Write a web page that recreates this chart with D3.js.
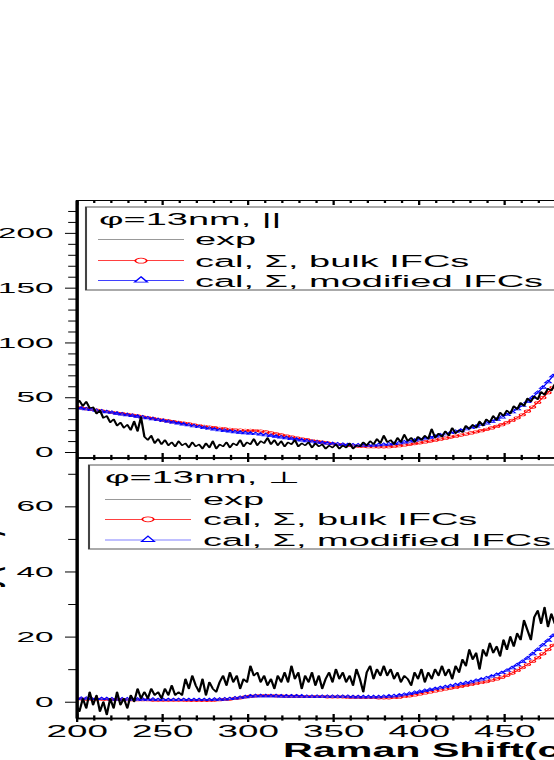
<!DOCTYPE html>
<html>
<head>
<meta charset="utf-8">
<script src="https://cdn.jsdelivr.net/npm/d3@7"></script>
<style>
  body { margin: 0; background: #fff; }
  svg { display: block; }
  text { font-family: "Liberation Sans", Arial, sans-serif; }
</style>
</head>
<body>
<svg id="chart"></svg>
<script>
// Raman spectra, phi = 13nm nanowire, parallel (top) and perpendicular (bottom)

// x grids (cm^-1)
var calcShift = d3.range(200, 483, 3);
var expShift = d3.range(200, 485, 2);

// top panel (||)
var expPar = [
  44, 47, 42, 46, 40, 41, 35, 38, 31, 33,
  27, 30, 24, 27, 22, 25, 20, 28, 19, 32,
  14, 11, 15, 8, 12, 7, 11, 6, 9, 5,
  10, 6, 8, 4, 9, 5, 7, 3, 8, 4,
  10, 3, 7, 5, 9, 4, 8, 6, 11, 5,
  9, 7, 12, 6, 10, 8, 13, 7, 11, 6,
  10, 5, 9, 7, 11, 5, 8, 6, 9, 4,
  8, 5, 7, 3, 6, 4, 7, 3, 6, 4,
  8, 3, 6, 5, 9, 6, 10, 7, 12, 8,
  15, 9, 11, 7, 13, 9, 16, 10, 13, 9,
  14, 11, 15, 12, 21, 13, 17, 14, 19, 15,
  22, 17, 20, 18, 24, 21, 25, 22, 28, 24,
  30, 27, 33, 29, 36, 33, 38, 35, 42, 39,
  45, 42, 49, 46, 51, 48, 55, 52, 58, 56,
  62, 59, 64
];
var bulkPar = [
  41.0, 40.3, 39.6, 39.0, 38.3, 37.6, 37.0, 36.3, 35.6, 35.0,
  34.3, 33.6, 32.9, 32.2, 31.5, 30.7, 29.9, 29.2, 28.4, 27.7,
  27.0, 26.3, 25.6, 24.9, 24.2, 23.5, 22.8, 22.2, 21.6, 21.1,
  20.7, 20.3, 20.0, 19.8, 19.8, 19.6, 19.1, 18.3, 17.4, 16.5,
  15.6, 14.8, 13.9, 13.0, 12.1, 11.3, 10.5, 9.7, 9.0, 8.3,
  7.7, 7.1, 6.6, 6.1, 5.7, 5.4, 5.1, 4.9, 4.8, 4.7,
  4.7, 4.9, 5.3, 5.8, 6.4, 7.0, 7.7, 8.4, 9.2, 10.0,
  10.8, 11.7, 12.6, 13.6, 14.5, 15.5, 16.4, 17.4, 18.4, 19.5,
  20.7, 22.0, 23.4, 25.0, 26.8, 28.8, 31.2, 34.0, 37.3, 41.0,
  45.2, 49.6, 54.2, 59.0, 64.0
];
var modPar = [
  40.5, 39.9, 39.2, 38.6, 37.9, 37.3, 36.6, 36.0, 35.3, 34.6,
  33.9, 33.2, 32.5, 31.8, 31.0, 30.2, 29.4, 28.6, 27.8, 27.0,
  26.2, 25.4, 24.6, 23.8, 23.0, 22.3, 21.5, 20.8, 20.1, 19.5,
  18.9, 18.4, 17.9, 17.5, 17.1, 16.7, 16.2, 15.6, 15.0, 14.3,
  13.6, 12.9, 12.2, 11.5, 10.8, 10.2, 9.6, 9.0, 8.5, 8.0,
  7.6, 7.2, 6.9, 6.6, 6.4, 6.3, 6.2, 6.2, 6.3, 6.5,
  6.8, 7.2, 7.7, 8.3, 9.0, 9.8, 10.7, 11.6, 12.5, 13.4,
  14.4, 15.4, 16.5, 17.6, 18.7, 19.8, 21.0, 22.2, 23.5, 24.9,
  26.4, 28.0, 29.8, 31.8, 34.0, 36.5, 39.3, 42.5, 46.0, 49.9,
  54.3, 59.0, 64.0, 69.5, 75.0
];

// bottom panel (perp)
var expPerp = [
  -1, -3, 1, -2, 3, -1, 2, -3, 0, -4,
  1, -2, 3, -1, 1, -2, 2, 0, 4, 1,
  3, 1, 4, 2, 3, 1, 4, 2, 5, 2,
  3, 2, 7, 4, 8, 5, 3, 7, 2, 6,
  4, 3, 6, 8, 5, 9, 6, 8, 4, 7,
  6, 11, 8, 9, 6, 8, 5, 7, 4, 8,
  6, 9, 6, 11, 7, 9, 4, 8, 6, 9,
  5, 8, 4, 7, 9, 6, 10, 7, 9, 6,
  8, 5, 10, 7, 3, 9, 11, 7, 10, 8,
  11, 8, 10, 7, 9, 6, 8, 7, 5, 9,
  7, 10, 6, 9, 7, 10, 8, 11, 8, 10,
  7, 11, 9, 13, 11, 16, 13, 15, 10, 16,
  14, 18, 15, 17, 14, 19, 16, 20, 17, 21,
  19, 25, 22, 19, 26, 28, 24, 29, 23, 27,
  24, 26, 23
];
var bulkPerp = [
  0.9, 0.9, 0.8, 0.8, 0.8, 0.8, 0.7, 0.7, 0.7, 0.7,
  0.6, 0.6, 0.6, 0.6, 0.6, 0.5, 0.5, 0.5, 0.5, 0.5,
  0.5, 0.5, 0.4, 0.4, 0.4, 0.4, 0.4, 0.5, 0.6, 0.7,
  0.8, 1.0, 1.2, 1.5, 1.7, 1.8, 1.9, 1.9, 1.9, 1.8,
  1.8, 1.7, 1.7, 1.7, 1.6, 1.6, 1.6, 1.6, 1.6, 1.5,
  1.5, 1.5, 1.5, 1.4, 1.4, 1.4, 1.3, 1.3, 1.3, 1.2,
  1.2, 1.2, 1.3, 1.4, 1.6, 1.8, 2.1, 2.4, 2.7, 3.0,
  3.3, 3.6, 3.9, 4.2, 4.4, 4.7, 5.0, 5.3, 5.6, 5.9,
  6.2, 6.6, 7.0, 7.5, 8.1, 8.8, 9.6, 10.5, 11.4, 12.4,
  13.5, 14.7, 16.0, 17.3, 18.6
];
var modPerp = [
  1.0, 1.0, 1.0, 0.9, 0.9, 0.9, 0.9, 0.8, 0.8, 0.8,
  0.8, 0.7, 0.7, 0.7, 0.7, 0.7, 0.6, 0.6, 0.6, 0.6,
  0.6, 0.6, 0.6, 0.6, 0.6, 0.6, 0.6, 0.7, 0.7, 0.8,
  0.9, 1.1, 1.3, 1.5, 1.7, 1.8, 1.8, 1.8, 1.8, 1.8,
  1.7, 1.7, 1.7, 1.7, 1.7, 1.6, 1.6, 1.6, 1.6, 1.6,
  1.6, 1.6, 1.6, 1.6, 1.5, 1.5, 1.5, 1.5, 1.5, 1.5,
  1.6, 1.7, 1.8, 2.0, 2.2, 2.5, 2.8, 3.1, 3.4, 3.7,
  4.0, 4.3, 4.6, 4.9, 5.2, 5.5, 5.8, 6.1, 6.5, 6.9,
  7.3, 7.8, 8.3, 8.9, 9.6, 10.4, 11.3, 12.3, 13.4, 14.7,
  16.0, 17.4, 18.8, 20.3, 21.8
];

var xMajor = [200, 250, 300, 350, 400, 450, 500, 550];
var legendLabels = ['exp', 'cal, \u03A3, bulk IFCs', 'cal, \u03A3, modified IFCs'];

var width = 554;
var height = 760;
var sx = 2.3; // whole figure is stretched sideways

var svg = d3.select('#chart')
    .attr('width', width)
    .attr('height', height);

var canvas = svg.append('g')
    .attr('transform', 'scale(' + sx + ',1)');

var x = d3.scaleLinear()
    .domain([200, 600])
    .range([76 / sx, (76 + 400 * 1.71) / sx]);

var xMinor = d3.range(200, 600, 10).filter(function (v) { return v % 50 !== 0; });

var panels = [
  {
    id: 'par', yDomain: [-5, 230], yRange: [457.5, 200],
    major: [0, 50, 100, 150, 200], minorStep: 10, majorStep: 50,
    exp: expPar, bulk: bulkPar, mod: modPar,
    title: '\u03C6=13nm, ||',
    box: {x: 86, y: 207, h: 83}, titleX: 99, titleY: 225,
    rows: [239.3, 260.7, 280.7], lineX: [98, 184], markX: 141, textX: 195
  },
  {
    id: 'perp', yDomain: [-5, 75], yRange: [718, 457.5],
    major: [0, 20, 40, 60], minorStep: 10, majorStep: 20,
    exp: expPerp, bulk: bulkPerp, mod: modPerp,
    title: '\u03C6=13nm, \u22A5',
    box: {x: 89, y: 465, h: 84}, titleX: 105, titleY: 483,
    rows: [499.3, 519.3, 540], lineX: [105, 191], markX: 148, textX: 203
  }
];

var triPath = 'M0,-1.7L1.5,1L-1.5,1Z';
var triPathBig = 'M0,-3.4L2.8,2L-2.8,2Z';

function styleAxis(g, sw) {
  g.selectAll('path.domain').attr('stroke', '#000').attr('stroke-width', sw);
  g.selectAll('line').attr('stroke', '#000').attr('stroke-width', 1);
  g.selectAll('text')
    .attr('fill', '#000')
    .style('font-family', '"Liberation Sans", Arial, sans-serif');
}

panels.forEach(function (p) {
  var y = d3.scaleLinear().domain(p.yDomain).range(p.yRange);
  var x0 = x.range()[0], x1 = x.range()[1];
  var yTop = p.yRange[1], yBot = p.yRange[0];
  var g = canvas.append('g');

  g.append('clipPath').attr('id', 'clip-' + p.id)
    .append('rect')
    .attr('x', x0).attr('y', yTop)
    .attr('width', x1 - x0).attr('height', yBot - yTop);

  // data ----------------------------------------------------------
  var plot = g.append('g').attr('clip-path', 'url(#clip-' + p.id + ')');
  var line = d3.line()
      .x(function (d) { return x(d[0]); })
      .y(function (d) { return y(d[1]); });

  var bulkPts = calcShift.map(function (s, i) { return [s, p.bulk[i]]; });
  var modPts = calcShift.map(function (s, i) { return [s, p.mod[i]]; });
  var expPts = expShift.map(function (s, i) { return [s, p.exp[i]]; });

  plot.append('path').datum(bulkPts)
    .attr('d', line).attr('fill', 'none')
    .attr('stroke', '#ff0000').attr('stroke-width', 0.7);
  plot.append('g').selectAll('circle')
    .data(bulkPts)
    .enter().append('circle')
    .attr('cx', function (d) { return x(d[0]); })
    .attr('cy', function (d) { return y(d[1]); })
    .attr('r', 1.3)
    .attr('fill', 'none')
    .attr('stroke', '#ff0000')
    .attr('stroke-width', 0.6);

  plot.append('path').datum(modPts)
    .attr('d', line).attr('fill', 'none')
    .attr('stroke', '#0000ff').attr('stroke-width', 0.7);
  plot.append('g').selectAll('path')
    .data(modPts)
    .enter().append('path')
    .attr('d', triPath)
    .attr('transform', function (d) { return 'translate(' + x(d[0]) + ',' + y(d[1]) + ')'; })
    .attr('fill', 'none')
    .attr('stroke', '#0000ff')
    .attr('stroke-width', 0.6);

  plot.append('path').datum(expPts)
    .attr('d', line).attr('fill', 'none')
    .attr('stroke', '#000').attr('stroke-width', 1)
    .attr('stroke-linejoin', 'round');

  // y axis --------------------------------------------------------
  var minor = d3.range(p.yDomain[0] < 0 ? p.minorStep : 0, p.yDomain[1], p.minorStep)
      .filter(function (v) { return v % p.majorStep !== 0; });

  var yMin = g.append('g').attr('transform', 'translate(' + x0 + ',0)')
    .call(d3.axisLeft(y).tickValues(minor).tickSize(3.4).tickSizeOuter(0).tickFormat(''));
  styleAxis(yMin, 1.3);

  var yMaj = g.append('g').attr('transform', 'translate(' + x0 + ',0)')
    .call(d3.axisLeft(y).tickValues(p.major).tickSize(4.8).tickSizeOuter(0).tickPadding(5));
  styleAxis(yMaj, 1.3);
  yMaj.selectAll('text').attr('font-size', 14.5);

  // legend --------------------------------------------------------
  var leg = g.append('g');
  leg.append('rect')
    .attr('x', p.box.x / sx).attr('y', p.box.y)
    .attr('width', 300).attr('height', p.box.h)
    .attr('fill', '#fff')
    .attr('stroke', '#444')
    .attr('stroke-width', 0.9);
  leg.append('text')
    .attr('x', p.titleX / sx).attr('y', p.titleY)
    .attr('font-size', 16.5)
    .text(p.title);

  var colors = ['#777', '#ff0000', '#0000ff'];
  p.rows.forEach(function (ry, i) {
    leg.append('line')
      .attr('x1', p.lineX[0] / sx).attr('x2', p.lineX[1] / sx)
      .attr('y1', ry).attr('y2', ry)
      .attr('stroke', colors[i])
      .attr('stroke-width', i === 0 ? 0.8 : 0.7);
    if (i === 1) {
      leg.append('circle')
        .attr('cx', p.markX / sx).attr('cy', ry).attr('r', 2.5)
        .attr('fill', '#fff').attr('stroke', '#ff0000').attr('stroke-width', 0.8);
    }
    if (i === 2) {
      leg.append('path')
        .attr('d', triPathBig)
        .attr('transform', 'translate(' + (p.markX / sx) + ',' + (ry - 0.5) + ')')
        .attr('fill', '#fff').attr('stroke', '#0000ff').attr('stroke-width', 0.8);
    }
    leg.append('text')
      .attr('x', p.textX / sx).attr('y', ry + 6)
      .attr('font-size', 16.5)
      .text(legendLabels[i]);
  });

  p.y = y;
});

// x axes --------------------------------------------------------------
// top frame, ticks inward
var topMin = canvas.append('g').attr('transform', 'translate(0,200)')
  .call(d3.axisBottom(x).tickValues(xMinor).tickSize(3).tickSizeOuter(0).tickFormat(''));
styleAxis(topMin, 1.2);
var topMaj = canvas.append('g').attr('transform', 'translate(0,200)')
  .call(d3.axisBottom(x).tickValues(xMajor).tickSize(5).tickSizeOuter(0).tickFormat(''));
styleAxis(topMaj, 1.2);

// shared border between panels, ticks crossing
[[xMinor, 2.6], [xMajor, 4.5]].forEach(function (t) {
  var a = canvas.append('g').attr('transform', 'translate(0,457.5)')
    .call(d3.axisBottom(x).tickValues(t[0]).tickSize(t[1]).tickSizeOuter(0).tickFormat(''));
  styleAxis(a, 1.4);
  a.selectAll('.tick line').attr('y1', -t[1]);
});

// bottom axis with labels
var botMin = canvas.append('g').attr('transform', 'translate(0,718)')
  .call(d3.axisBottom(x).tickValues(xMinor).tickSize(2.6).tickSizeOuter(0).tickFormat(''));
styleAxis(botMin, 1.4);
botMin.selectAll('.tick line').attr('y1', -2.6);

var botMaj = canvas.append('g').attr('transform', 'translate(0,718)')
  .call(d3.axisBottom(x).tickValues(xMajor).tickSize(4).tickSizeOuter(0).tickPadding(3.5));
styleAxis(botMaj, 1.4);
botMaj.selectAll('.tick line').attr('y1', -4);
botMaj.selectAll('text').attr('font-size', 16);

// axis titles -----------------------------------------------------------
canvas.append('text')
  .attr('transform', 'translate(' + (283 / sx) + ',756.7) scale(0.92,1)')
  .attr('font-size', 19.5)
  .attr('font-weight', 'bold')
  .text('Raman Shift(cm\u207B\u00B9)');

canvas.append('text')
  .attr('transform', 'translate(-1.5,591) rotate(-90)')
  .attr('text-anchor', 'middle')
  .attr('font-size', 18)
  .attr('font-weight', 'bold')
  .text('Intensity (a.u.)');
</script>
</body>
</html>
